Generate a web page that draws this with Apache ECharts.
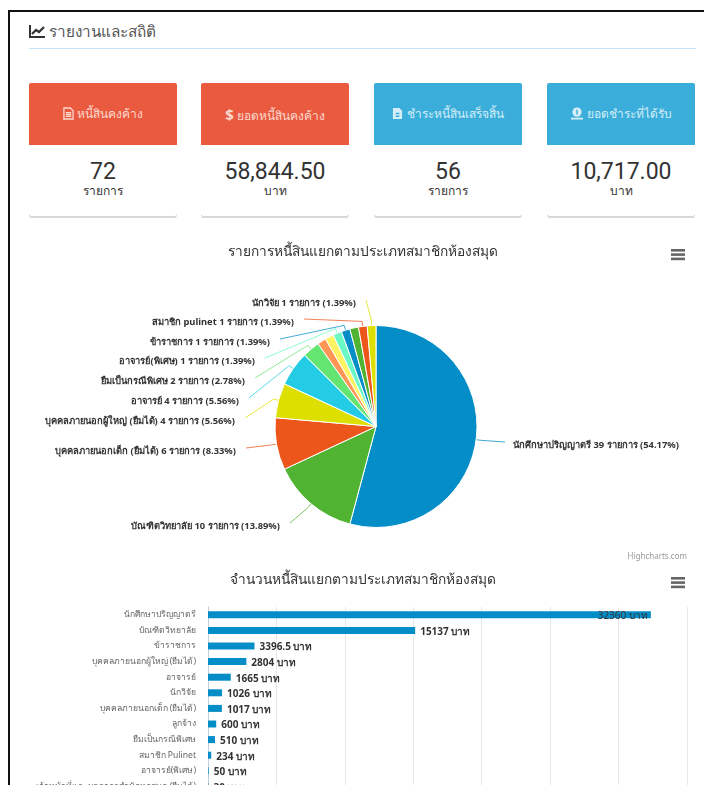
<!DOCTYPE html>
<html>
<head>
<meta charset="utf-8">
<title>รายงานและสถิติ</title>
<script src="https://cdn.jsdelivr.net/npm/echarts@6/dist/echarts.min.js"></script>
<style>
    html, body { margin: 0; padding: 0; background: #fff; overflow: hidden; width: 704px; height: 785px; }
    body { font-family: "Noto Sans", "Open Sans", "DejaVu Sans", sans-serif; position: relative; }
    .frame { position: absolute; left: 8px; top: 10px; width: 720px; height: 800px; border: 2px solid #111; }
    .heading { position: absolute; left: 29px; top: 20px; font-size: 15.3px; line-height: 22px; color: #555; }
    .heading svg { vertical-align: -1px; margin-right: 4px; }
    .rule { position: absolute; left: 29px; top: 48px; width: 667px; height: 1px; background: #c5e4f7; }
    .card { position: absolute; top: 83px; width: 148px; height: 133px; background: #fff; border-radius: 3px; box-shadow: 0 2px 0 #d8d8d8; text-align: center; color: #333; }
    .card .head { height: 62px; line-height: 62px; font-size: 12px; color: #fbd9d0; border-radius: 2px 2px 0 0; white-space: nowrap; }
    .card .head svg { vertical-align: -2px; }
    .card .red { background: #ea5a3f; }
    .card .blue { background: #3badda; color: #d3eef8; }
    .card .num { font-family: Roboto, "Liberation Sans", sans-serif; font-size: 23px; line-height: 26px; margin-top: 14px; }
    .card .unit { font-size: 12px; line-height: 14px; margin-top: -1px; }
    #main { position: absolute; left: 0; top: 0; width: 704px; height: 785px; }
</style>
</head>
<body>
<div class="frame"></div>
<div class="heading"><svg width="16" height="13" viewBox="0 0 16 13"><path d="M1 0v12h15" fill="none" stroke="#333" stroke-width="2"/><path d="M3 9l4-4 3 2 5-5" fill="none" stroke="#333" stroke-width="2.2"/></svg>รายงานและสถิติ</div>
<div class="rule"></div>
<div id="cards"></div>
<div id="main"></div>
<script>
    // การ์ดสรุป
    var cardTitles = ['หนี้สินคงค้าง', 'ยอดหนี้สินคงค้าง', 'ชำระหนี้สินเสร็จสิ้น', 'ยอดชำระที่ได้รับ'];
    var cardValues = ['72', '58,844.50', '56', '10,717.00'];
    var cardUnits = ['รายการ', 'บาท', 'รายการ', 'บาท'];

    // กราฟวงกลม
    var pieTitle = 'รายการหนี้สินแยกตามประเภทสมาชิกห้องสมุด';
    var pieNames = ['นักศึกษาปริญญาตรี', 'บัณฑิตวิทยาลัย', 'บุคคลภายนอกเด็ก (ยืมได้)', 'บุคคลภายนอกผู้ใหญ่ (ยืมได้)', 'อาจารย์', 'ยืมเป็นกรณีพิเศษ', 'ลูกจ้าง', 'เจ้าหน้าที่', 'อาจารย์(พิเศษ)', 'ข้าราชการ', 'บุคลากร', 'สมาชิก pulinet', 'นักวิจัย'];
    var pieValues = [39, 10, 6, 4, 4, 2, 1, 1, 1, 1, 1, 1, 1];

    // กราฟแท่ง
    var barTitle = 'จำนวนหนี้สินแยกตามประเภทสมาชิกห้องสมุด';
    var barNames = ['นักศึกษาปริญญาตรี', 'บัณฑิตวิทยาลัย', 'ข้าราชการ', 'บุคคลภายนอกผู้ใหญ่ (ยืมได้)', 'อาจารย์', 'นักวิจัย', 'บุคคลภายนอกเด็ก (ยืมได้)', 'ลูกจ้าง', 'ยืมเป็นกรณีพิเศษ', 'สมาชิก Pulinet', 'อาจารย์(พิเศษ)', 'เจ้าหน้าที่และบุคลากรสำนักหอสมุด (ยืมได้)'];
    var barValues = [32360, 15137, 3396.5, 2804, 1665, 1026, 1017, 600, 510, 234, 50, 30];

    var colors = ['#058DC7', '#50B432', '#ED561B', '#DDDF00', '#24CBE5', '#64E572', '#FF9655', '#FFF263', '#6AF9C4', '#058DC7', '#50B432', '#ED561B', '#DDDF00'];

    // ตำแหน่งป้ายกำกับของกราฟวงกลม [x, y] (null = ไม่แสดง)
    var pieLabelAnchors = [[513, 445], [280, 526], [236, 451], [235, 421], [239, 401], [245, 381], null, null, [255, 361], [270, 342], null, [294, 322], [356, 303]];
    var pieCenter = [376, 426.5];
    var pieRadius = 101;

    var cardIcons = [
        '<svg width="11" height="13" viewBox="0 0 12 14"><path d="M1 1h7l3 3v9H1z M3 6h6 M3 8h6 M3 10h6" fill="none" stroke="currentColor" stroke-width="1.4"/></svg>',
        '<b style="font-size:15px;">$</b>',
        '<svg width="11" height="13" viewBox="0 0 12 14"><path d="M1 1h7l3 3v9H1z" fill="currentColor"/><path d="M4 7h4 M4 10h4" stroke="#3badda" stroke-width="1.5"/></svg>',
        '<svg width="14" height="13" viewBox="0 0 15 14"><circle cx="7.5" cy="5.5" r="5" fill="currentColor"/><path d="M1 12.5h13" stroke="currentColor" stroke-width="2"/><path d="M7.5 3v5" stroke="#3badda" stroke-width="1.5"/></svg>'
    ];
    var cardLefts = [29, 201, 374, 547];
    var cardColors = ['red', 'red', 'blue', 'blue'];

    var html = '';
    for (var i = 0; i < cardTitles.length; i++) {
        html += '<div class="card" style="left:' + cardLefts[i] + 'px">'
            + '<div class="head ' + cardColors[i] + '">' + cardIcons[i] + ' ' + cardTitles[i] + '</div>'
            + '<div class="num">' + cardValues[i] + '</div>'
            + '<div class="unit">' + cardUnits[i] + '</div></div>';
    }
    document.getElementById('cards').innerHTML = html;

    var pieTotal = 0;
    var pieData = [];
    for (var j = 0; j < pieNames.length; j++) {
        pieTotal += pieValues[j];
        pieData.push({
            name: pieNames[j],
            value: pieValues[j],
            label: { show: !!pieLabelAnchors[j] },
            labelLine: { show: !!pieLabelAnchors[j] }
        });
    }

    var barData = [];
    for (var k = 0; k < barValues.length; k++) {
        // แท่งแรกยาวจนป้ายต้องอยู่ด้านใน
        barData.push(k == 0 ? {
            value: barValues[k],
            label: { position: 'insideRight', distance: 3, fontWeight: 'normal', color: '#333' }
        } : barValues[k]);
    }

    function menuIcon(y) {
        var bars = [];
        for (var n = 0; n < 3; n++) {
            bars.push({
                type: 'rect',
                shape: { x: 671, y: y + n * 4.3, width: 14, height: 2.6 },
                style: { fill: '#666' }
            });
        }
        return bars;
    }

    var option = {
        animation: false,
        textStyle: { fontFamily: '"Noto Sans", "DejaVu Sans", sans-serif' },
        title: [
            { text: pieTitle, left: 363, top: 245, padding: 0, textAlign: 'center', textStyle: { fontSize: 13.7, fontWeight: 'normal', color: '#333' } },
            { text: barTitle, left: 363, top: 573, padding: 0, textAlign: 'center', textStyle: { fontSize: 13.7, fontWeight: 'normal', color: '#333' } },
            { text: 'Highcharts.com', left: 687, top: 553, padding: 0, textAlign: 'right', textStyle: { fontSize: 8, fontWeight: 'normal', color: '#999' } }
        ],
        graphic: menuIcon(249).concat(menuIcon(577)),
        grid: { left: 208, top: 607, width: 479, height: 187.2, outerBoundsMode: 'none' },
        xAxis: {
            type: 'value',
            min: 0,
            max: 35000,
            interval: 5000,
            axisLabel: { show: false },
            axisLine: { show: false },
            axisTick: { show: false },
            splitLine: { lineStyle: { color: '#e6e6e6', width: 1 } }
        },
        yAxis: {
            type: 'category',
            inverse: true,
            data: barNames,
            axisLine: { lineStyle: { color: '#C0D0E0' } },
            axisTick: { show: false },
            axisLabel: { color: '#666', fontSize: 8.6, margin: 12, interval: 0, padding: [3, 0, 0, 0] }
        },
        series: [
            {
                type: 'pie',
                center: pieCenter,
                radius: pieRadius,
                startAngle: 90,
                clockwise: true,
                color: colors,
                avoidLabelOverlap: false,
                itemStyle: { borderColor: '#fff', borderWidth: 1 },
                label: {
                    formatter: function (params) {
                        return params.name + ' ' + params.value + ' รายการ (' + (params.value / pieTotal * 100).toFixed(2) + '%)';
                    },
                    fontSize: 9.4,
                    fontWeight: 'bold',
                    color: '#333'
                },
                labelLine: { show: true, lineStyle: { width: 1, opacity: 0.75 } },
                labelLayout: function (params) {
                    var anchor = pieLabelAnchors[params.dataIndex];
                    if (!anchor || !params.labelLinePoints) {
                        return {};
                    }
                    var edge = params.labelLinePoints[0];
                    var dx = edge[0] - pieCenter[0];
                    var dy = edge[1] - pieCenter[1];
                    var len = Math.sqrt(dx * dx + dy * dy);
                    var elbow = [edge[0] + dx / len * 5, edge[1] + dy / len * 5];
                    var isRight = anchor[0] > pieCenter[0];
                    var end = [anchor[0] + (isRight ? -8 : 10), anchor[1] - 3];
                    return {
                        x: anchor[0],
                        y: anchor[1],
                        align: isRight ? 'left' : 'right',
                        verticalAlign: 'middle',
                        labelLinePoints: [edge, elbow, end]
                    };
                },
                data: pieData
            },
            {
                type: 'bar',
                barWidth: 7,
                itemStyle: { color: '#058DC7' },
                label: { show: true, position: 'right', distance: 5, offset: [0, 1.5], formatter: '{c} บาท', fontSize: 10, fontWeight: 'bold', color: '#333' },
                data: barData
            }
        ]
    };

    var myChart = echarts.init(document.getElementById('main'));
    myChart.setOption(option);
</script>
</body>
</html>
